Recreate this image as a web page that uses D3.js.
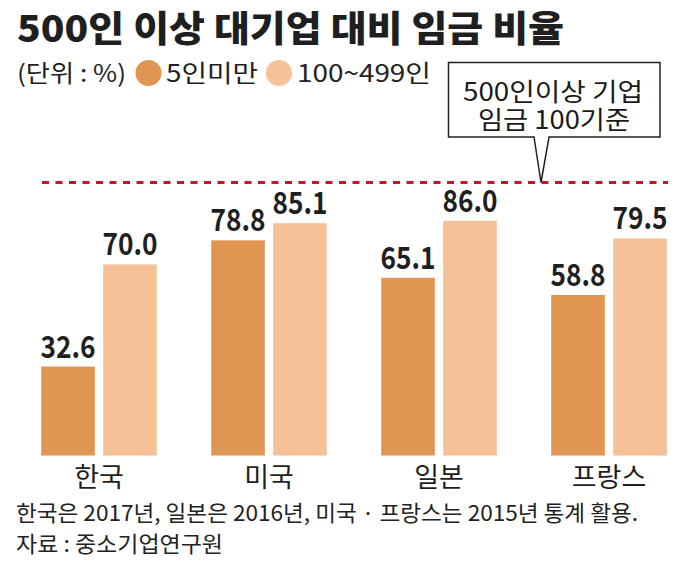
<!DOCTYPE html>
<html>
<head>
<meta charset="utf-8">
<script src="https://cdn.jsdelivr.net/npm/d3@7"></script>
<style>
  html, body { margin: 0; padding: 0; background: #fff; }
  svg { display: block; font-family: "Noto Sans CJK KR", "Noto Sans", sans-serif; }
</style>
</head>
<body>
<svg id="chart" width="682" height="561"></svg>
<script>
const categories = ["한국", "미국", "일본", "프랑스"];
const seriesNames = ["5인미만", "100~499인"];
const small = [32.6, 78.8, 65.1, 58.8];
const mid = [70.0, 85.1, 86.0, 79.5];
const referenceValue = 100;
const titleText = "500인 이상 대기업 대비 임금 비율";
const unitText = "(단위 : %)";
const calloutLines = ["500인이상 기업", "임금 100기준"];
const footnotes = ["한국은 2017년, 일본은 2016년, 미국 · 프랑스는 2015년 통계 활용.", "자료 : 중소기업연구원"];

const colors = ["#e09552", "#f6c197"];
const svg = d3.select("#chart");

const rows = categories.map((c, i) => ({ cat: c, values: [small[i], mid[i]] }));

const y = d3.scaleLinear().domain([0, 100]).range([455.5, 182.5]);
const x0 = d3.scaleBand().domain(categories).range([14, 694]).paddingInner(0.32).paddingOuter(0.16);
const x1 = d3.scaleBand().domain([0, 1]).range([0, x0.bandwidth()]).paddingInner(0.135);

// Title
svg.append("text").attr("x", 17).attr("y", 42)
  .attr("font-size", 36).attr("font-weight", 900).attr("fill", "#1f1f1f")
  .attr("textLength", 547).attr("lengthAdjust", "spacingAndGlyphs")
  .text(titleText);

// Legend
const ly = 82;
svg.append("text").attr("x", 17).attr("y", ly).attr("font-size", 24).attr("fill", "#222")
  .attr("textLength", 109).attr("lengthAdjust", "spacingAndGlyphs").text(unitText);
const legendItems = [
  { cx: 148.5, tx: 166, w: 92 },
  { cx: 279, tx: 297, w: 134 }
];
seriesNames.forEach((s, i) => {
  svg.append("circle").attr("cx", legendItems[i].cx).attr("cy", 73).attr("r", 13).attr("fill", colors[i]);
  svg.append("text").attr("x", legendItems[i].tx).attr("y", ly).attr("font-size", 24).attr("fill", "#222")
    .attr("textLength", legendItems[i].w).attr("lengthAdjust", "spacingAndGlyphs").text(s);
});

// Reference dashed line
svg.append("line")
  .attr("x1", 42).attr("x2", 668)
  .attr("y1", y(referenceValue)).attr("y2", y(referenceValue))
  .attr("stroke", "#c8142e").attr("stroke-width", 3.2)
  .attr("stroke-dasharray", "7,6.5");

// Callout box with pointer
const bx0 = 448.5, bx1 = 660, by0 = 62.5, by1 = 137;
const tipX = 541, tipY = y(referenceValue);
svg.append("path")
  .attr("d", `M${bx0},${by0} L${bx1},${by0} L${bx1},${by1} L549,${by1} L${tipX},${tipY} L534,${by1} L${bx0},${by1} Z`)
  .attr("fill", "#fff").attr("stroke", "#222").attr("stroke-width", 1.5);
svg.append("text").attr("x", 463).attr("y", 101).attr("font-size", 25).attr("fill", "#1a1a1a")
  .attr("textLength", 180).attr("lengthAdjust", "spacingAndGlyphs").text(calloutLines[0]);
svg.append("text").attr("x", 478).attr("y", 129).attr("font-size", 25).attr("fill", "#1a1a1a")
  .attr("textLength", 152).attr("lengthAdjust", "spacingAndGlyphs").text(calloutLines[1]);

// Bars
const g = svg.append("g");
const groups = g.selectAll("g.grp").data(rows).join("g")
  .attr("class", "grp").attr("transform", d => `translate(${x0(d.cat)},0)`);
groups.selectAll("rect").data(d => d.values.map((v, i) => ({ v, i }))).join("rect")
  .attr("x", d => x1(d.i)).attr("width", x1.bandwidth())
  .attr("y", d => y(d.v)).attr("height", d => y(0) - y(d.v))
  .attr("fill", d => colors[d.i]);
groups.selectAll("text.val").data(d => d.values.map((v, i) => ({ v, i }))).join("text")
  .attr("class", "val")
  .attr("x", d => x1(d.i) + x1.bandwidth() / 2)
  .attr("y", d => y(d.v) - 9)
  .attr("text-anchor", "middle").attr("font-size", 31).attr("font-weight", 700).attr("fill", "#1f1f1f")
  .attr("textLength", 55).attr("lengthAdjust", "spacingAndGlyphs")
  .text(d => d.v.toFixed(1));

// Category labels
const xAxis = d3.axisBottom(x0).tickSize(0).tickPadding(0);
const ax = svg.append("g").attr("transform", `translate(0,${y(0)})`).call(xAxis);
ax.select(".domain").remove();
ax.selectAll("text").attr("font-size", 27).attr("fill", "#1f1f1f")
  .attr("font-family", "'Noto Sans CJK KR', sans-serif")
  .attr("dy", 0).attr("y", 31);

// Footnotes
svg.append("text").attr("x", 16).attr("y", 521).attr("font-size", 22).attr("fill", "#222")
  .attr("textLength", 622).attr("lengthAdjust", "spacingAndGlyphs").text(footnotes[0]);
svg.append("text").attr("x", 16).attr("y", 552).attr("font-size", 22).attr("fill", "#222")
  .attr("textLength", 207).attr("lengthAdjust", "spacingAndGlyphs").text(footnotes[1]);
</script>
</body>
</html>
